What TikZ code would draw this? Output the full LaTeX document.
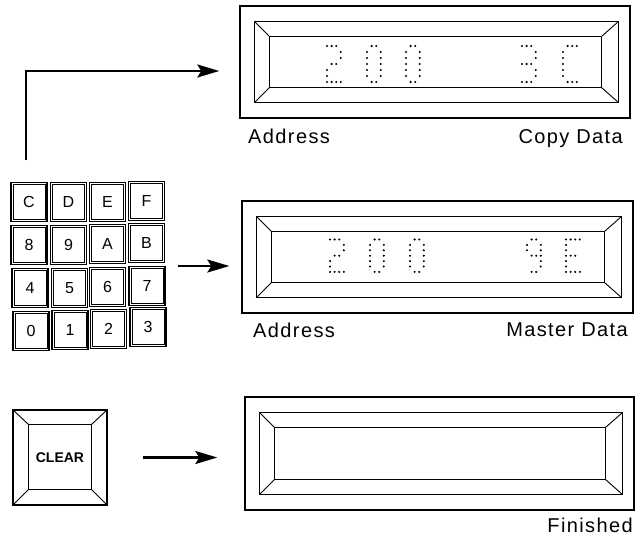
\documentclass[tikz,border=0pt]{standalone}
\usepackage{fontspec}
\setmainfont{Liberation Sans}
\newfontfamily\labfont[LetterSpace=7]{Liberation Sans}
\usetikzlibrary{arrows.meta,calc}

\newcommand\lcdbevel[1]{%
  \path ($(#1.north west)+(15,16)$) coordinate (#1-o1)
        ($(#1.north east)+(-12,16)$) coordinate (#1-o2)
        ($(#1.south east)+(-12,-16)$) coordinate (#1-o3)
        ($(#1.south west)+(15,-16)$) coordinate (#1-o4)
        ($(#1.north west)+(30,31)$) coordinate (#1-i1)
        ($(#1.north east)+(-29,31)$) coordinate (#1-i2)
        ($(#1.south east)+(-29,-31)$) coordinate (#1-i3)
        ($(#1.south west)+(30,-31)$) coordinate (#1-i4);
  \draw[bevel] (#1-o1) -- (#1-o2) -- (#1-o3) -- (#1-o4) -- cycle;
  \draw[innerline] (#1-i1) -- (#1-i2) -- (#1-i3) -- (#1-i4) -- cycle;
  \foreach \k in {1,2,3,4} {\draw[bevel] (#1-o\k) -- (#1-i\k);}
}
\newcommand\dmglyph[5]{%
  \foreach \c/\r in #5 {\fill (#1+\c*#3, #2+\r*#4) circle (1.15);}
}
\newcommand\keyinner[1]{%
  \draw[line width=0.7pt] ($(#1.north west)+(2.4,2.4)$) rectangle ($(#1.south east)+(-2.4,-2.4)$);
}
\def\gTwo{0/0,1/0,2/0,3/1,3/2,1/3,2/3,0/4,0/5,0/6,1/6,2/6,3/6}
\def\gZero{1/0,2/0,0/1,3/1,0/2,3/2,0/3,3/3,0/4,3/4,0/5,3/5,1/6,2/6}
\def\gThree{0/0,1/0,2/0,3/1,3/2,0/3,1/3,2/3,3/4,3/5,0/6,1/6,2/6}
\def\gC{1/0,2/0,3/0,0/1,0/2,0/3,0/4,0/5,1/6,2/6,3/6}
\def\gNine{1/0,2/0,0/1,3/1,0/2,3/2,1/3,2/3,3/3,3/4,3/5,1/6,2/6}
\def\gE{0/0,1/0,2/0,3/0,0/1,0/2,0/3,1/3,2/3,0/4,0/5,0/6,1/6,2/6,3/6}

\begin{document}
\begin{tikzpicture}[x=1pt,y=-1pt,
  lab/.style={font=\labfont\fontsize{20}{23}\selectfont, inner sep=0pt},
  keybox/.style={draw, line width=1.1pt,
    minimum width=36pt, minimum height=39pt, inner sep=0pt,
    font=\fontsize{16}{18}\selectfont},
  dispbox/.style={draw, line width=1.4pt, inner sep=0pt},
  bevel/.style={line width=0.9pt},
  innerline/.style={line width=1.3pt},
  conn/.style={line width=2.2pt, -{Stealth[length=22pt,width=13pt,inset=4pt]}},
]
\useasboundingbox (0,0) rectangle (637,535);

% displays
\node[dispbox, minimum width=390pt, minimum height=112pt] (d1) at (435,62) {};
\node[dispbox, minimum width=391pt, minimum height=112pt] (d2) at (437.5,257) {};
\node[dispbox, minimum width=389pt, minimum height=113pt] (d3) at (439.5,453.5) {};
\lcdbevel{d1}
\lcdbevel{d2}
\lcdbevel{d3}

% dot-matrix characters
\dmglyph{327}{46}{4.6}{6}{\gTwo}
\dmglyph{367}{46}{4.6}{6}{\gZero}
\dmglyph{406}{46}{4.6}{6}{\gZero}
\dmglyph{522}{46}{4.6}{6}{\gThree}
\dmglyph{563}{46}{4.6}{6}{\gC}

\dmglyph{330}{239.5}{4.6}{5.4}{\gTwo}
\dmglyph{370}{239.5}{4.6}{5.4}{\gZero}
\dmglyph{410}{239.5}{4.6}{5.4}{\gZero}
\dmglyph{527}{239.5}{4.6}{5.4}{\gNine}
\dmglyph{566}{239.5}{4.6}{5.4}{\gE}

% labels
\node[lab, anchor=base west] (l1a) at (248,143) {Address};
\node[lab, anchor=base east] (l1b) at (623,143) {Copy Data};
\node[lab, anchor=base west] (l2a) at (253,337) {Address};
\node[lab, anchor=base east] (l2b) at (628,336) {Master Data};
\node[lab, anchor=base east] (l3) at (633,532) {Finished};

% keypad
\node[minimum width=162pt, minimum height=172pt, inner sep=0pt] (keypad) at (88,266) {};
\node[keybox] (kC) at (29,202) {C};
\node[keybox] (kD) at (68.5,202) {D};
\node[keybox] (kE) at (107.5,202) {E};
\node[keybox] (kF) at (146.5,201) {F};
\node[keybox] (k8) at (29,245) {8};
\node[keybox] (k9) at (68.5,245) {9};
\node[keybox] (kA) at (107.5,244) {A};
\node[keybox] (kB) at (146.5,243) {B};
\node[keybox] (k4) at (30,288) {4};
\node[keybox] (k5) at (69.5,288) {5};
\node[keybox] (k6) at (107.5,287) {6};
\node[keybox] (k7) at (147,286) {7};
\node[keybox] (k0) at (31,331) {0};
\node[keybox] (k1) at (70,330) {1};
\node[keybox] (k2) at (108.5,329) {2};
\node[keybox] (k3) at (148,327) {3};
\foreach \n in {kC,kD,kE,kF,k8,k9,kA,kB,k4,k5,k6,k7,k0,k1,k2,k3} {\keyinner{\n}}

% CLEAR key
\node[draw, line width=1.3pt, minimum width=94pt, minimum height=95pt, inner sep=0pt] (clear) at (60,457.5) {};
\path ($(clear.north west)+(16,15)$) coordinate (c1)
      ($(clear.north east)+(-16,15)$) coordinate (c2)
      ($(clear.south east)+(-16,-16)$) coordinate (c3)
      ($(clear.south west)+(16,-16)$) coordinate (c4);
\draw[line width=0.9pt] (c1) -- (c2) -- (c3) -- (c4) -- cycle;
\draw[line width=0.9pt] (clear.north west) -- (c1) (clear.north east) -- (c2)
  (clear.south east) -- (c3) (clear.south west) -- (c4);
\node[font=\bfseries\fontsize{14}{16}\selectfont, inner sep=0pt] (cleartxt) at (clear.center) {CLEAR};

% connectors
\coordinate (up) at (26,160);
\draw[conn, shorten >=20pt] (up) |- ([yshift=-9pt]d1.west);
\draw[conn, shorten <=9pt, shorten >=12pt] (keypad.east) -- (keypad.east -| d2.west);
\draw[conn, shorten <=35pt, shorten >=27pt] (clear.east) -- (clear.east -| d3.west);
\end{tikzpicture}
\end{document}
